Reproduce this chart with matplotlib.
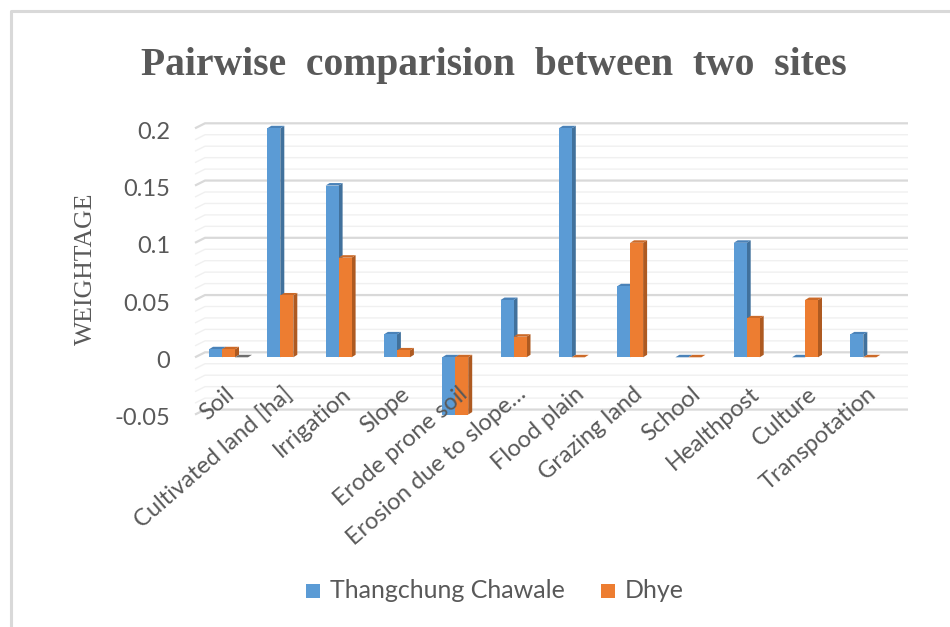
import numpy as np
import matplotlib
matplotlib.use("Agg")
import matplotlib.pyplot as plt
from matplotlib.patches import Polygon, Rectangle
from matplotlib.lines import Line2D
import matplotlib.transforms as mtransforms

# ---- data ----
categories = ["Soil", "Cultivated land [ha]", "Irrigation", "Slope", "Erode prone soil",
              "Erosion due to slope\u2026", "Flood plain", "Grazing land", "School",
              "Healthpost", "Culture", "Transpotation"]
thangchung = [0.007, 0.2, 0.15, 0.02, -0.05, 0.05, 0.2, 0.062, 0.0, 0.1, 0.0, 0.02]
dhye = [0.007, 0.054, 0.087, 0.006, -0.05, 0.018, 0.0, 0.1, 0.0, 0.034, 0.05, 0.0]
third = [0.0] + [None] * 11
series_names = ["Thangchung Chawale", "Dhye"]
y_ticks = [-0.05, 0, 0.05, 0.1, 0.15, 0.2]
y_tick_labels = ["-0.05", "0", "0.05", "0.1", "0.15", "0.2"]

# ---- styling ----
W, H, DPI = 950, 627, 100
TEXT = "#595959"
FRONT = ["#5B9BD5", "#ED7D31", "#A5A5A5"]
SIDE = ["#41719C", "#AE5A21", "#7C7C7C"]
TOP = ["#4A82B8", "#CC6A28", "#6E6E6E"]
sans = ["Lato", "DejaVu Sans"]
serif = ["Liberation Serif", "DejaVu Serif"]

# pixel geometry of the plotting region
X0_PX, SLOT_PX = 228.5, 58.3       # centre of first group, slot width
Y0_PX, UNIT_PX = 357.3, 1145.0     # y of value 0, pixels per unit
AX_L, AX_R, AX_T, AX_B = 190, 910, 110, 425

fig = plt.figure(figsize=(W / DPI, H / DPI), dpi=DPI)
fig.patch.set_facecolor("white")

ax = fig.add_axes([AX_L / W, 1 - AX_B / H, (AX_R - AX_L) / W, (AX_B - AX_T) / H])
ax.set_xlim((AX_L - X0_PX) / SLOT_PX, (AX_R - X0_PX) / SLOT_PX)
ax.set_ylim((Y0_PX - AX_B) / UNIT_PX, (Y0_PX - AX_T) / UNIT_PX)
ax.set_axis_off()

# depth of walls and bars, in data units
wall_dy = 5 / UNIT_PX
x_side_front = (195 - X0_PX) / SLOT_PX
x_wall_left = (205 - X0_PX) / SLOT_PX
x_wall_right = (908 - X0_PX) / SLOT_PX
bar_w = 13 / SLOT_PX
bar_dx = 4 / SLOT_PX
bar_dy = 2.5 / UNIT_PX

# gridlines on side wall + back wall
levels = np.round(np.arange(-0.05, 0.2001, 0.01), 2)
for v in levels:
    major = abs(v / 0.05 - round(v / 0.05)) < 1e-6
    ax.add_line(Line2D([x_side_front, x_wall_left, x_wall_right],
                       [v, v + wall_dy, v + wall_dy],
                       color="#D9D9D9" if major else "#F0F0F0",
                       lw=1.6 if major else 1.0, zorder=1 if major else 0.5,
                       clip_on=False, solid_capstyle="butt"))

# 3-D style columns
all_series = [thangchung, dhye, third]
for i in range(len(categories)):
    for j, vals in enumerate(all_series):
        v = vals[i]
        if v is None:
            continue
        x0 = i + (j - 1) * bar_w - bar_w / 2
        x1 = x0 + bar_w
        lo, hi = min(v, 0), max(v, 0)
        z = 2 + i * 0.1 + j * 0.01
        ax.add_patch(Polygon([(x1, lo), (x1, hi), (x1 + bar_dx, hi + bar_dy),
                              (x1 + bar_dx, lo + bar_dy)], closed=True,
                             facecolor=SIDE[j], edgecolor="none", zorder=z, clip_on=False))
        ax.add_patch(Polygon([(x0, hi), (x1, hi), (x1 + bar_dx, hi + bar_dy),
                              (x0 + bar_dx, hi + bar_dy)], closed=True,
                             facecolor=TOP[j], edgecolor="none", zorder=z, clip_on=False))
        ax.add_patch(Rectangle((x0, lo), bar_w, hi - lo, facecolor=FRONT[j],
                               edgecolor="none", zorder=z + 0.001, clip_on=False))

# y tick labels
ytrans = mtransforms.blended_transform_factory(fig.transFigure, ax.transData) + \
    mtransforms.ScaledTranslation(0, -4 / DPI, fig.dpi_scale_trans)
for v, lab in zip(y_ticks, y_tick_labels):
    ax.text(170 / W, v, lab, transform=ytrans, ha="right", va="center",
            fontsize=17, color=TEXT, family=sans)

# category labels
for i, lab in enumerate(categories):
    ax.text(i + 0.05, (Y0_PX - 391) / UNIT_PX, lab, rotation=41, rotation_mode="anchor",
            ha="right", va="center", fontsize=17, color=TEXT, family=sans, clip_on=False)

# title and axis title
fig.text(494 / W, 1 - 65 / H, "Pairwise  comparision  between  two  sites",
         ha="center", va="center", fontsize=28.5, fontweight="bold", color=TEXT, family=serif)
fig.text(86 / W, 1 - 269 / H, "WEIGHTAGE", rotation=90, ha="center", va="center",
         fontsize=18.5, color=TEXT, family=serif)

# legend
for name, col, sx in zip(series_names, FRONT[:2], [306, 601]):
    fig.patches.append(Rectangle((sx / W, 1 - 598 / H), 14 / W, 14 / H,
                                 transform=fig.transFigure, facecolor=col,
                                 edgecolor="none", figure=fig))
    fig.text((sx + 24) / W, 1 - 591 / H, name, ha="left", va="center",
             fontsize=18, color=TEXT, family=sans)

# outer frame (top and left edges)
fig.add_artist(Line2D([11 / W, 11 / W, 1.0], [0.0, 1 - 10.5 / H, 1 - 10.5 / H],
                      transform=fig.transFigure, color="#D9D9D9", lw=2.2))

fig.savefig("out.png", dpi=DPI, facecolor="white")
